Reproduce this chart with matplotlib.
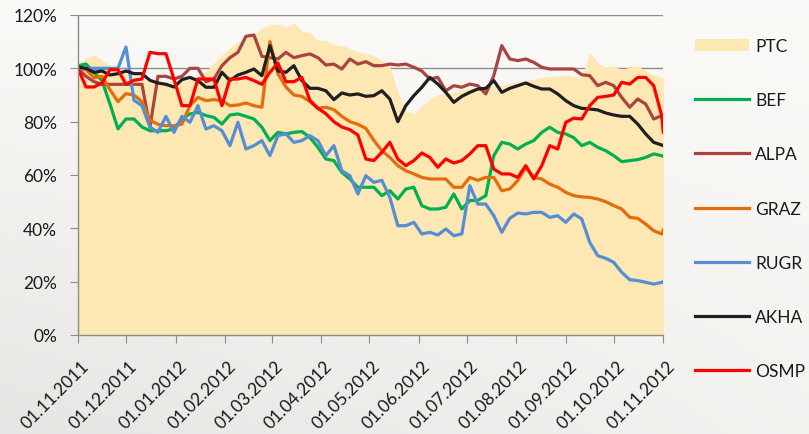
import numpy as np
import matplotlib
matplotlib.use("Agg")
import matplotlib.pyplot as plt
import matplotlib.dates as mdates
import matplotlib.transforms as mtransforms
from matplotlib.patches import Patch
from matplotlib.lines import Line2D

plt.rcParams['font.family'] = ['Lato', 'DejaVu Sans']

# ---- data (percent of start value), sampled every 5 days from 01.11.2011 ----
days = list(range(0, 366, 5)) + [366]

ptc = [101, 104, 105, 103, 101, 99, 98, 97, 96, 95, 95, 95, 95,
       95, 96, 97, 99, 102, 105, 107.5, 110, 111, 112.5, 115, 116.5,
       116.6, 115.4, 117, 114, 113.5, 110.5, 110.5, 109, 108.5, 107.5, 106, 105.4, 104.75,
       103, 101, 91, 84, 83, 86, 88.5, 90, 90.5, 91, 92, 92.5, 93,
       93, 93.5, 93.5, 94.5, 95, 95.5, 96, 96.5, 97, 97, 97.5, 97, 97,
       106, 102, 100.5, 101, 99.5, 100.5, 101, 99, 97.5, 96.6, 96.5]

bef = [101, 101.6, 98.5, 95.4, 86.6, 77.3, 81, 81, 78, 76.6, 76.6, 76.6, 77.3,
       81, 82.9, 83.5, 82.3, 81.6, 79.1, 82.5, 82.9, 82, 81, 77.9, 72.9,
       76, 75.4, 76, 76.3, 74.1, 70.4, 66, 65.4, 61, 58.5, 55.4, 55.4, 55.4,
       52.25, 54.1, 51, 54.75, 55.4, 48.5, 47.25, 47.25, 47.9, 52.9, 47.25, 50.4, 50.5,
       52.25, 67.25, 72.25, 71.6, 69.75, 71.6, 72.9, 76, 77.9, 76, 75.4, 74, 71,
       72.25, 70.4, 69.1, 67.25, 65, 65.4, 65.75, 66.6, 67.9, 67.25, 67]

alpa = [100, 97, 95, 94, 94, 94, 94, 94, 94, 78, 97, 97, 96,
        97, 100, 100, 95, 96, 101, 104, 106, 112, 112.5, 104.5, 104,
        103.5, 106, 104, 104.75, 105.4, 104, 101.25, 101.6, 99.75, 103.5, 101.6, 102.5, 101,
        101, 101.6, 101.25, 101.6, 100.4, 99, 96, 96.6, 91.6, 93.5, 92.9, 94.1, 93.5,
        90.4, 97.25, 108.5, 103.5, 102.9, 103.5, 102.25, 100.4, 99.75, 99.75, 99.75, 99.75, 97.6,
        97.25, 93.5, 94.75, 93.5, 89.1, 85.4, 88.5, 86.6, 81, 82.25, 82]

graz = [100, 99.5, 96.5, 97, 92, 87.5, 90.5, 90, 87.5, 80.5, 79, 78.5, 78.5,
        79.1, 86, 89.1, 87.9, 88.25, 87.9, 86, 86.25, 87, 86, 85.4, 110,
        98, 93, 90, 89.5, 87.5, 85, 85.4, 84.5, 82, 80, 79, 77.5, 73,
        69.1, 66.6, 63.5, 61.6, 60.4, 59.1, 58.5, 58.5, 58.5, 55.4, 55.4, 59.1, 58,
        59.1, 59.1, 54.1, 54.75, 57.9, 63, 59.1, 58.5, 56.6, 55.4, 53.5, 52.25, 51.8,
        51.6, 51, 50, 48.5, 47.25, 44.1, 43.75, 41.6, 39.1, 37.9, 39.5]

rugr = [100, 100, 100, 100, 100, 100, 108, 88, 86, 78, 76, 82, 76,
        82, 79.75, 86, 77.25, 78.5, 76.6, 71, 79.75, 69.75, 71, 72.9, 67.25,
        74.75, 75.4, 72.25, 72.9, 74.75, 72.9, 67.25, 71, 61.6, 59.75, 52.9, 59.75, 57.25,
        58, 51.6, 41, 41, 42.25, 37.9, 38.5, 37.5, 39.75, 37.25, 37.9, 56, 49.1,
        49.1, 44.75, 38.5, 43.75, 45.75, 45.4, 46, 46, 44.1, 44.75, 42.25, 45.4, 43.5,
        34.75, 29.75, 28.75, 27.25, 23.5, 20.75, 20.4, 19.75, 19.1, 19.75, 20]

akha = [100.5, 100, 98.5, 99, 97.5, 98, 99, 98, 98, 95.5, 94.5, 94, 93,
        95.75, 96.6, 95.4, 92.9, 92.9, 98.5, 95.4, 97.5, 98.5, 99.75, 97.25, 108.5,
        99, 98.5, 101, 95.4, 92.5, 92.5, 91.6, 88.25, 90.75, 90, 90.4, 89.5, 89.75,
        91.6, 88.5, 80, 86, 89.75, 92.9, 96.6, 94.1, 91, 87.25, 89.5, 91, 92.25,
        92.5, 95.4, 91, 92.5, 93.5, 94.5, 93.25, 92.25, 92.25, 90.4, 87.9, 86, 85,
        84.75, 84.4, 83.25, 82.5, 82, 82, 79.1, 75.4, 72.25, 71.25, 71]

osmp = [100, 93, 93, 94.5, 99.5, 99.5, 94, 95.5, 96, 106, 105.5, 105.5, 96,
        86, 86, 96, 96, 96, 86, 96, 96, 96.6, 95.4, 94, 98.5,
        102, 95, 95, 96.6, 88, 85, 83, 80, 78, 77, 75, 66, 65.4,
        68.5, 72.25, 66, 63.5, 65.4, 68.25, 66.6, 62.9, 66, 64.5, 65.4, 67.9, 71,
        71, 62.25, 60.4, 60.4, 59.1, 63.5, 58.5, 63.5, 71, 69.75, 79.75, 81.3, 81,
        86, 89.1, 89.5, 90, 94.75, 94.1, 96.6, 96.6, 93.5, 82.25, 76]

series_names = ['BEF', 'ALPA', 'GRAZ', 'RUGR', 'AKHA', 'OSMP']
series_values = [bef, alpa, graz, rugr, akha, osmp]
series_colors = ['#00b050', '#a9443f', '#e46c0a', '#558ed5', '#1f1f1f', '#ff0000']
ptc_color = '#fde7b2'

y_ticks = [0, 20, 40, 60, 80, 100, 120]

# ---- figure ----
W, H = 809, 435
fig = plt.figure(figsize=(W / 100, H / 100), dpi=100)

# decorative background gradient
bg = fig.add_axes([0, 0, 1, 1], zorder=-10)
yy, xx = np.mgrid[0:1:200j, 0:1:400j]
lum = 0.985 - 0.06 * yy * (1 - 0.5 * xx) - 0.02 * (1 - xx) * yy
img = np.dstack([lum, lum * 0.995, lum * 0.985])
bg.imshow(np.clip(img, 0, 1), aspect='auto', extent=[0, 1, 0, 1], origin='upper')
bg.axis('off')

ax = fig.add_axes([78 / W, 1 - 336 / H, (663.3 - 78) / W, (336 - 16) / H])
ax.set_facecolor('none')

base = np.datetime64('2011-11-01')
dates = base + np.array(days, dtype='timedelta64[D]')

ax.fill_between(dates, 0, ptc, color=ptc_color, lw=0, zorder=1)
for name, vals, col in zip(series_names, series_values, series_colors):
    ax.plot(dates, vals, color=col, lw=2.3, zorder=2, solid_joinstyle='round')

ax.set_xlim(np.datetime64('2011-11-01'), np.datetime64('2012-11-01'))
ax.set_ylim(0, 120)
ax.set_yticks(y_ticks)
ax.set_yticklabels([f'{v}%' for v in y_ticks])
ax.xaxis.set_major_locator(mdates.MonthLocator(bymonthday=1))
ax.xaxis.set_major_formatter(mdates.DateFormatter('%d.%m.%Y'))

ax.set_axisbelow(True)
ax.yaxis.grid(True, color='#8c8c8c', lw=1.0)
for s in ['top', 'right']:
    ax.spines[s].set_visible(False)
for s in ['left', 'bottom']:
    ax.spines[s].set_color('#8c8c8c')
    ax.spines[s].set_linewidth(1.0)
ax.tick_params(axis='both', direction='out', length=6, color='#8c8c8c',
               labelsize=12.5, labelcolor='#1a1a1a')
ax.tick_params(axis='y', pad=9)
ax.tick_params(axis='x', pad=10)
offset = mtransforms.ScaledTranslation(3 / 100, 0, fig.dpi_scale_trans)
for lab in ax.get_xticklabels():
    lab.set_rotation(45)
    lab.set_ha('right')
    lab.set_va('top')
    lab.set_rotation_mode('anchor')
    lab.set_transform(lab.get_transform() + offset)

handles = [Patch(facecolor=ptc_color, edgecolor='none', label='PTC')]
for name, col in zip(series_names, series_colors):
    handles.append(Line2D([0], [0], color=col, lw=2.3, label=name))
fig.legend(handles=handles, loc='upper left', bbox_to_anchor=(695 / W, 1 - 39 / H),
           frameon=False, fontsize=12.5, handlelength=3.1, handletextpad=0.35,
           labelspacing=2.2, borderpad=0, borderaxespad=0, handleheight=0.7,
           labelcolor='#1a1a1a')

fig.savefig('out.png', dpi=100)
